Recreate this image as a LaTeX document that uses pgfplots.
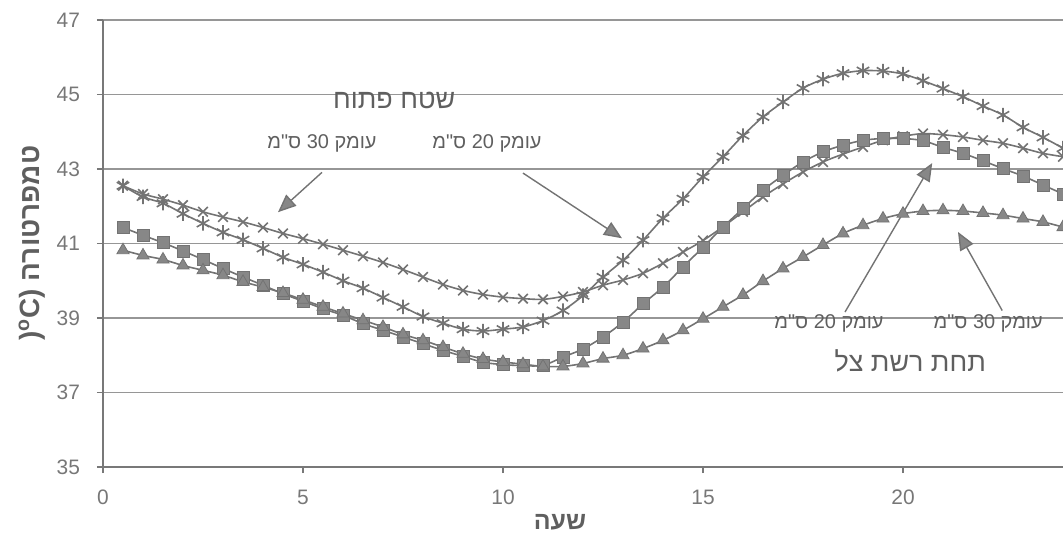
\documentclass[border=0pt]{standalone}
\usepackage{pgfplots}
\pgfplotsset{compat=1.18}
\usepackage{pgfplotstable}
\usetikzlibrary{arrows.meta}
\usepackage{fontspec}
\setmainfont{Liberation Sans}
\newfontfamily\heb[Script=Hebrew]{Liberation Sans}
\TeXXeTstate=1
\definecolor{ln}{RGB}{115,115,115}
\definecolor{mk}{RGB}{135,135,135}
\definecolor{txt}{RGB}{95,95,95}
\definecolor{grd}{RGB}{150,150,150}

\pgfplotstableread{
h A B C D
0.5 42.55 42.55 41.43 40.82
1.0 42.33 42.25 41.22 40.68
1.5 42.19 42.08 41.02 40.57
2.0 42.03 41.80 40.80 40.41
2.5 41.85 41.54 40.57 40.28
3.0 41.71 41.30 40.33 40.15
3.5 41.58 41.10 40.10 39.97
4.0 41.43 40.87 39.88 39.83
4.5 41.27 40.63 39.65 39.67
5.0 41.13 40.44 39.45 39.49
5.5 40.98 40.23 39.25 39.30
6.0 40.82 40.00 39.07 39.12
6.5 40.66 39.80 38.85 38.94
7.0 40.49 39.55 38.67 38.76
7.5 40.30 39.30 38.49 38.56
8.0 40.10 39.04 38.31 38.40
8.5 39.90 38.86 38.13 38.22
9.0 39.74 38.70 37.97 38.04
9.5 39.63 38.65 37.81 37.90
10.0 39.56 38.70 37.75 37.82
10.5 39.52 38.76 37.72 37.76
11.0 39.50 38.93 37.73 37.70
11.5 39.58 39.20 37.95 37.70
12.0 39.70 39.60 38.17 37.78
12.5 39.88 40.10 38.49 37.91
13.0 40.02 40.55 38.89 38.00
13.5 40.20 41.09 39.38 38.18
14.0 40.47 41.68 39.83 38.40
14.5 40.77 42.20 40.37 38.67
15.0 41.08 42.79 40.90 38.98
15.5 41.45 43.33 41.44 39.30
16.0 41.85 43.90 41.94 39.62
16.5 42.25 44.40 42.43 39.99
17.0 42.60 44.80 42.83 40.33
17.5 42.92 45.17 43.19 40.64
18.0 43.19 45.41 43.46 40.96
18.5 43.40 45.57 43.64 41.27
19.0 43.59 45.64 43.77 41.49
19.5 43.77 45.63 43.82 41.67
20.0 43.88 45.55 43.82 41.80
20.5 43.95 45.37 43.76 41.87
21.0 43.92 45.16 43.58 41.89
21.5 43.86 44.94 43.42 41.87
22.0 43.77 44.69 43.22 41.82
22.5 43.69 44.45 43.01 41.76
23.0 43.56 44.12 42.81 41.67
23.5 43.42 43.85 42.57 41.58
24.0 43.33 43.56 42.33 41.44
}\data

\begin{document}
\begin{tikzpicture}
\begin{axis}[
  scale only axis, width=480bp, height=223.5bp,
  xmin=0, xmax=24, ymin=35, ymax=47,
  axis x line*=bottom, axis y line*=left,
  xtick={0,5,10,15,20}, ytick={35,37,...,47},
  ymajorgrids, grid style={grd, line width=0.6bp},
  axis line style={grd!80!black, line width=0.6bp},
  tick align=outside, major tick length=3bp,
  tick style={grd!80!black, line width=0.6bp},
  tick label style={font=\fontsize{10.5}{12}\selectfont, text=txt!85!white},
  /pgf/number format/assume math mode=true,
  xticklabel style={yshift=-5bp},
  yticklabel style={xshift=-5bp},
  clip=false,
  every axis plot/.append style={color=ln, line width=0.8bp, smooth, tension=0.5},
  xlabel={\heb\bfseries\beginR שעה\endR},
  xlabel style={at={(axis description cs:0.476,0)}, anchor=center, yshift=-27.5bp, font=\fontsize{12.5}{14}\selectfont, text=txt},
  ylabel={\heb\bfseries\beginR טמפרטורה \beginL(\textsuperscript{o}C)\endL\endR},
  ylabel style={at={(axis description cs:-0.074,0.501)}, anchor=center, font=\fontsize{14}{16}\selectfont, text=txt},
]
\addplot[mark=x, mark size=3.4bp, mark options={ln, line width=0.8bp}] table[x=h, y=A] {\data};
\addplot[mark=asterisk, mark size=3.6bp, mark options={ln, line width=0.8bp}] table[x=h, y=B] {\data};
\addplot[mark=square*, mark size=3bp, mark options={fill=mk, draw=ln, line width=0.4bp}] table[x=h, y=C] {\data};
\addplot[mark=triangle*, mark size=3.5bp, mark options={fill=mk, draw=ln, line width=0.4bp}] table[x=h, y=D] {\data};

% annotations
\begin{scope}[every node/.style={text=txt, inner sep=0pt}]
\node[font=\fontsize{13.5}{15}\selectfont] at (axis cs:7.28,44.85) {\heb\beginR שטח פתוח\endR};
\node[font=\fontsize{10}{11}\selectfont] at (axis cs:5.475,43.69) {\heb\beginR עומק \beginL 30\endL{} ס"מ\endR};
\node[font=\fontsize{10}{11}\selectfont] at (axis cs:9.6,43.69) {\heb\beginR עומק \beginL 20\endL{} ס"מ\endR};
\node[font=\fontsize{10}{11}\selectfont] at (axis cs:18.15,38.85) {\heb\beginR עומק \beginL 20\endL{} ס"מ\endR};
\node[font=\fontsize{10}{11}\selectfont] at (axis cs:22.13,38.85) {\heb\beginR עומק \beginL 30\endL{} ס"מ\endR};
\node[font=\fontsize{13.5}{15}\selectfont] at (axis cs:20.18,37.86) {\heb\beginR תחת רשת צל\endR};
\end{scope}
\begin{scope}[draw=ln, line width=0.7bp, -{Triangle[length=9bp,width=7.5bp,fill=mk]}]
\draw (axis cs:5.475,42.91) -- (axis cs:4.375,41.84);
\draw (axis cs:10.5,42.89) -- (axis cs:12.975,41.14);
\draw (axis cs:18.55,39.16) -- (axis cs:20.73,43.16);
\draw (axis cs:22.48,39.2) -- (axis cs:21.375,41.31);
\end{scope}
\end{axis}
\pgfresetboundingbox
\useasboundingbox (-51.5bp,-44.5bp) rectangle (480bp,233.5bp);
\end{tikzpicture}
\end{document}
